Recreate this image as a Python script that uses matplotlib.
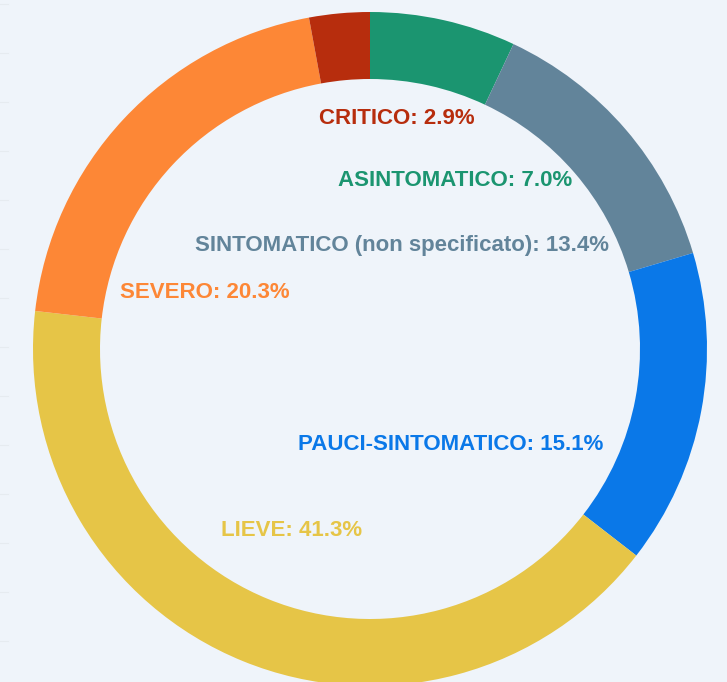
import matplotlib
matplotlib.use("Agg")
import matplotlib.pyplot as plt

# ---- data ----
categories = ["ASINTOMATICO", "SINTOMATICO (non specificato)", "PAUCI-SINTOMATICO",
              "LIEVE", "SEVERO", "CRITICO"]
percentages = [7.0, 13.4, 15.1, 41.3, 20.3, 2.9]
colors = ["#1B9570", "#62849A", "#0A78E8", "#E6C547", "#FD8736", "#B72D0D"]

# ---- layout (pixel coordinates, y from top) ----
W, H = 727, 682
center_px = (370, 349)
outer_r = 337
ring_width = 67
label_pos = [(455, 180), (402, 245), (451, 444), (292, 530), (205, 293), (397, 119)]
bg = "#EFF4FA"

fig = plt.figure(figsize=(W / 100, H / 100), dpi=100, facecolor=bg)
ax = fig.add_axes([0, 0, 1, 1])
ax.set_facecolor(bg)

# faint gridline stubs at the left edge
for yy in range(4, H, 49):
    ax.plot([0, 8], [H - yy, H - yy], color="#E6EBF0", lw=0.8, zorder=0)

ax.pie(percentages, colors=colors, startangle=90, counterclock=False,
       center=(center_px[0], H - center_px[1]), radius=outer_r,
       wedgeprops=dict(width=ring_width, linewidth=0), frame=True)
ax.set_xlim(0, W)
ax.set_ylim(0, H)
ax.set_aspect("equal")
ax.axis("off")

for cat, pct, col, (lx, ly) in zip(categories, percentages, colors, label_pos):
    ax.text(lx, H - ly, f"{cat}: {pct:.1f}%", color=col, ha="center", va="center",
            fontsize=16, fontweight="bold", family=["Liberation Sans", "DejaVu Sans"])

fig.savefig("out.png", dpi=100, facecolor=bg)
